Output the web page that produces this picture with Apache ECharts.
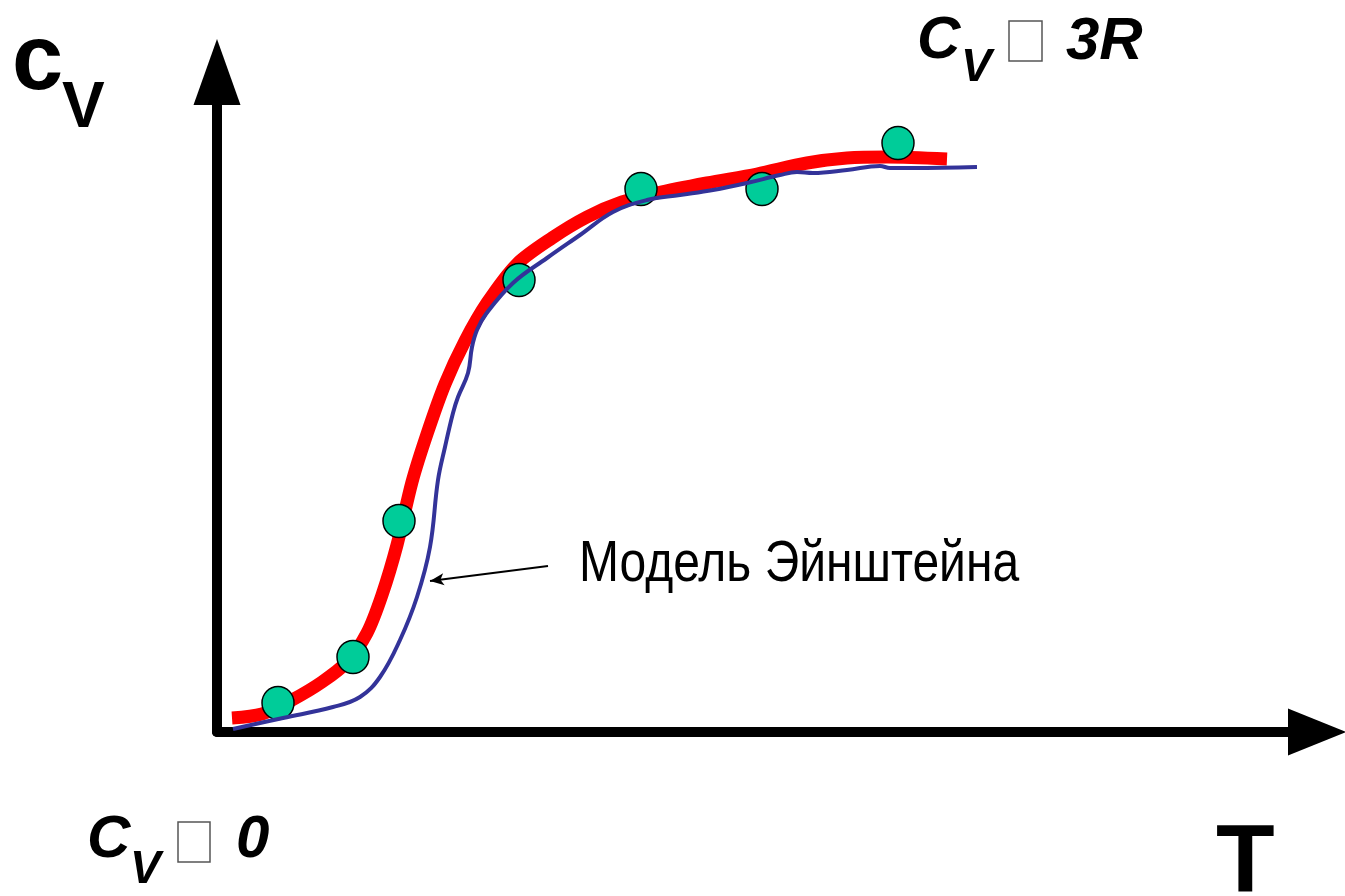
<!DOCTYPE html>
<html>
<head>
<meta charset="utf-8">
<script src="https://cdn.jsdelivr.net/npm/echarts@6/dist/echarts.min.js"></script>
<style>
html,body{margin:0;padding:0;background:#fff;}
#chart{width:1345px;height:896px;}
</style>
</head>
<body>
<div id="chart"></div>
<script>
// Experimental c_V(T) — thick red curve [T, cV]
const experimentCurve = [
  [1.5, 1.4], [4.5, 1.8], [7.5, 3.2], [10.5, 5.0], [13.0, 7.0], [15.0, 9.9],
  [16.5, 13.7], [18.0, 18.7], [19.5, 25.0], [21.0, 29.8], [22.8, 34.8],
  [24.8, 39.1], [27.0, 42.9], [30.0, 46.8], [33.5, 49.4], [37.0, 51.5],
  [40.5, 53.0], [44.0, 53.9], [49.0, 54.9], [54.0, 55.8], [59.0, 56.9],
  [63.0, 57.4], [67.0, 57.5], [73.0, 57.3]
];
// Einstein model — thin blue curve [T, cV]
const einsteinCurve = [
  [1.6, 0.3], [6.6, 1.4], [11.6, 2.5], [14.3, 3.5], [16.3, 5.5], [18.3, 9.2],
  [20.0, 13.5], [21.3, 18.5], [22.1, 25.2], [22.8, 28.5], [23.6, 31.9],
  [24.1, 33.5], [25.1, 35.9], [25.5, 38.5], [26.0, 40.2], [26.9, 41.8],
  [29.6, 44.9], [33.0, 47.4], [36.3, 49.7], [39.6, 52.0], [43.0, 53.2],
  [46.3, 53.7], [49.6, 54.2], [53.0, 54.9], [56.3, 55.7], [58.0, 56.0],
  [59.6, 55.9], [63.0, 56.2], [66.3, 56.6], [67.3, 56.4], [69.6, 56.4],
  [76.0, 56.5]
];
// Measured points [T, cV]
const measuredPoints = [
  [6.1, 2.9], [13.6, 7.5], [18.2, 21.1], [30.2, 45.2], [42.4, 54.3],
  [54.5, 54.3], [68.1, 58.9]
];
// Annotation arrow: from label to the Einstein curve [T, cV]
const annotationArrow = [[33.1, 16.6], [21.3, 15.1]];
const annotationText = 'Модель Эйнштейна';
const axisNames = { y: ['c', 'V'], x: 'T' };
const highLabel = ['C', 'V', '3R'];
const lowLabel = ['C', 'V', '0'];

const FONT = '"Liberation Sans", Arial, sans-serif';
const chart = echarts.init(document.getElementById('chart'));

function txt(text, x, y, size, opts) {
  opts = opts || {};
  return {
    type: 'text', x: x, y: y, scaleY: opts.scaleY || 1, z: 100,
    style: {
      text: text, fontSize: size, fontFamily: FONT,
      fontWeight: opts.weight || 'bold', fontStyle: opts.italic ? 'italic' : 'normal',
      fill: '#000', align: 'left', verticalAlign: 'middle'
    }
  };
}
function box(x, y, w, h) {
  return { type: 'rect', z: 100, shape: { x: x, y: y, width: w, height: h },
    style: { fill: 'none', stroke: '#555', lineWidth: 1.5 } };
}

chart.setOption({
  animation: false,
  backgroundColor: '#fff',
  grid: { left: 217, right: 28, top: 72, bottom: 164 },
  xAxis: {
    type: 'value', min: 0, max: 110,
    axisLine: { show: true, symbol: ['none', 'triangle'], symbolSize: [47, 58],
      lineStyle: { color: '#000', width: 10 } },
    axisTick: { show: false }, axisLabel: { show: false }, splitLine: { show: false }
  },
  yAxis: {
    type: 'value', min: 0, max: 66,
    axisLine: { show: true, symbol: ['none', 'triangle'], symbolSize: [47, 66],
      lineStyle: { color: '#000', width: 10 } },
    axisTick: { show: false }, axisLabel: { show: false }, splitLine: { show: false }
  },
  series: [
    {
      type: 'line', data: experimentCurve, smooth: 0.3, showSymbol: false,
      lineStyle: { color: '#FF0000', width: 13, cap: 'butt' }, z: 2
    },
    {
      type: 'scatter', data: measuredPoints, symbol: 'circle', symbolSize: [32, 33],
      itemStyle: { color: '#00CC99', borderColor: '#000', borderWidth: 1.5, opacity: 1 }, z: 3
    },
    {
      type: 'line', data: einsteinCurve, smooth: 0.4, showSymbol: false,
      lineStyle: { color: '#333399', width: 4 }, z: 4,
      markLine: {
        silent: true, symbol: ['none', 'arrow'], symbolSize: [9, 14],
        label: { show: false },
        lineStyle: { color: '#000', width: 1.8, type: 'solid' },
        data: [[{ coord: annotationArrow[0] }, { coord: annotationArrow[1] }]]
      }
    }
  ],
  graphic: [
    txt(axisNames.y[0], 12, 64, 92),
    txt(axisNames.y[1], 62, 109, 64),
    txt(axisNames.x, 1216, 866, 96),
    txt(highLabel[0], 917, 41, 60, { italic: true }),
    txt(highLabel[1], 961, 68, 46, { italic: true }),
    box(1009, 21, 33, 40),
    txt(highLabel[2], 1066, 42, 60, { italic: true }),
    txt(lowLabel[0], 87, 840, 60, { italic: true }),
    txt(lowLabel[1], 130, 870, 46, { italic: true }),
    box(178, 822, 32, 40),
    txt(lowLabel[2], 236, 840, 60, { italic: true }),
    txt(annotationText, 579, 565, 48, { weight: 'normal', scaleY: 1.18 })
  ]
});
</script>
</body>
</html>
